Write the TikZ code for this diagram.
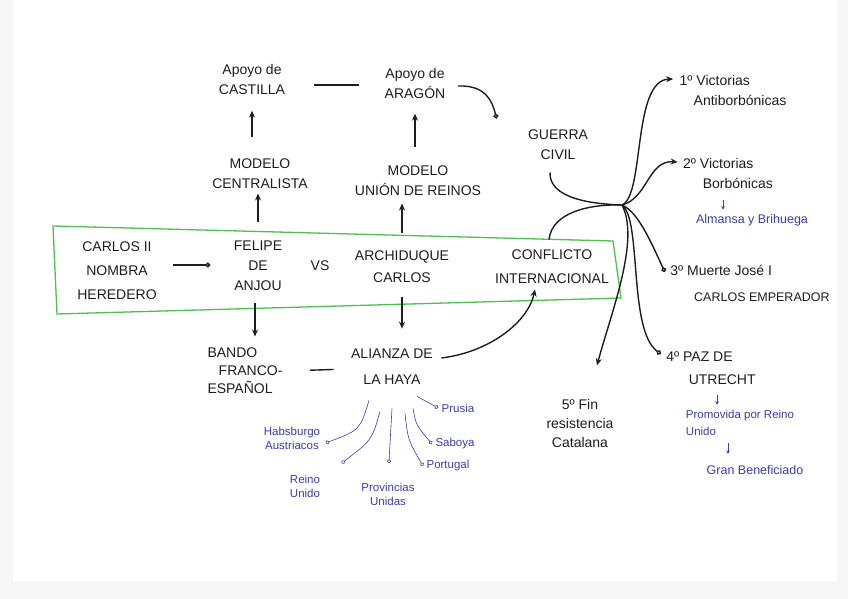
\documentclass[tikz,border=0pt]{standalone}
\usepackage{fontspec}
\setmainfont{Liberation Sans}
\usetikzlibrary{arrows.meta}
\definecolor{ink}{RGB}{30,30,30}
\definecolor{pen}{RGB}{60,60,170}
\definecolor{marker}{RGB}{80,190,80}
\begin{document}
\begin{tikzpicture}[
    x=1pt, y=-1pt,
    idea/.style={align=center, text=ink, font=\fontsize{14}{20}\selectfont},
    note/.style={align=center, text=pen, font=\fontsize{11.5}{14}\selectfont},
    arrow/.style={-{Stealth[length=7pt,width=6pt]}, line width=1.4pt, ink},
    dotarrow/.style={-{Circle[open,length=5pt]}, line width=1.4pt, ink},
    link/.style={line width=1.4pt, ink},
    bluearrow/.style={-{Circle[open,length=4pt]}, pen, line width=0.6pt},
    bluetip/.style={-{Stealth[length=3.5pt,width=3.5pt]}, pen, line width=0.6pt},
    frame/.style={draw=marker, line width=1.3pt}
]
% Page
\useasboundingbox (0,0) rectangle (848,599);
\fill[gray!7] (0,0) rectangle (848,599);
\fill[white] (13,0) rectangle (837,581);
% Green frame
\draw[frame] (53,226) -- (613,241) -- (621,298) -- (57,314) -- cycle;
% Top row
\node[idea] (castilla) at (252,79) {Apoyo de\\CASTILLA};
\node[idea] (aragon) at (415,83) {Apoyo de\\ARAGÓN};
\node[idea] (centralista) at (260,174) {MODELO\\CENTRALISTA};
\node[idea] (reinos) at (418,181) {MODELO\\UNIÓN DE REINOS};
\node[idea] (guerra) at (558,145) {GUERRA\\CIVIL};
% Framed row
\node[idea, font=\fontsize{14}{24}\selectfont] (carlos) at (117,271) {CARLOS II\\NOMBRA\\HEREDERO};
\node[idea] (felipe) at (258,266) {FELIPE\\DE\\ANJOU};
\node[idea] (vs) at (320,266) {VS};
\node[idea, font=\fontsize{14}{22}\selectfont] (archiduque) at (402,267) {ARCHIDUQUE\\CARLOS};
\node[idea, font=\fontsize{14}{24}\selectfont] (conflicto) at (552,267) {CONFLICTO\\INTERNACIONAL};
% Bottom row
\node[idea, align=left, font=\fontsize{14}{18}\selectfont] (bando) at (245,371) {BANDO\\\hspace*{0.8em}FRANCO-\\ESPAÑOL};
\node[idea, font=\fontsize{14}{26}\selectfont] (alianza) at (392,367) {ALIANZA DE\\LA HAYA};
% Alliance members
\node[note] (prusia) at (458,408) {Prusia};
\node[note] (saboya) at (455,444) {Saboya};
\node[note] (portugal) at (448,466) {Portugal};
\node[note] (provincias) at (388,494) {Provincias\\Unidas};
\node[note] (reino) at (305,486) {Reino\\Unido};
\node[note] (habsburgo) at (292,438) {Habsburgo\\Austriacos};
% Stages of the war
\coordinate (hub) at (622,205);
\node[idea, align=left] (first) at (733,90) {1º Victorias\\\hspace*{1em}Antiborbónicas};
\node[idea, align=left] (second) at (728,173) {2º Victorias\\\hspace*{1.4em}Borbónicas};
\node[note, font=\fontsize{12.5}{14}\selectfont] (almansa) at (752,220) {Almansa y Brihuega};
\node[idea, align=left, font=\fontsize{14}{26}\selectfont] (third) at (750,283) {3º Muerte José I\\\hspace*{1.7em}{\fontsize{12.5}{26}\selectfont CARLOS EMPERADOR}};
\node[idea, align=left, font=\fontsize{14}{23}\selectfont] (fourth) at (711,368) {4º PAZ DE\\\hspace*{1.6em}UTRECHT};
\node[note, align=left, font=\fontsize{11.5}{17}\selectfont] (promovida) at (740,423) {Promovida por Reino\\Unido};
\node[note, font=\fontsize{12.5}{14}\selectfont] (gran) at (755,470) {Gran Beneficiado};
\node[idea, font=\fontsize{14}{19}\selectfont] (fifth) at (580,423) {5º Fin\\resistencia\\Catalana};

% Connectors
\draw[link] ([xshift=25pt,yshift=-6pt]castilla.east) -- ([xshift=-22pt,yshift=-2pt]aragon.west);
\draw[arrow, shorten <=19pt, shorten >=13pt] (centralista.north -| castilla.south) -- (castilla.south);
\draw[arrow, shorten <=16pt, shorten >=12pt] (reinos.north -| aragon.south) -- (aragon.south);
\draw[arrow, shorten <=16pt, shorten >=1pt] (felipe.north) -- (felipe.north |- centralista.south);
\draw[arrow, shorten <=15pt, shorten >=4pt] (archiduque.north) -- (archiduque.north |- reinos.south);
\draw[dotarrow, shorten <=13pt, shorten >=20pt] ([yshift=6pt]carlos.east) -- ([yshift=1pt]felipe.west);
\draw[arrow, shorten <=9pt, shorten >=8pt] (felipe.south -| 255,0) -- (bando.north -| 255,0);
\draw[arrow, shorten <=11pt, shorten >=17pt] (archiduque.south) -- (archiduque.south |- alianza.north);
\draw[link, shorten <=24pt, shorten >=14pt] (bando.east) -- ([yshift=-2pt]alianza.west);
\draw[dotarrow] ([xshift=9pt,yshift=-3pt]aragon.east) .. controls (485,85) and (492,100) .. ([xshift=-28pt,yshift=8pt]guerra.north west);
\draw[arrow] ([xshift=5pt,yshift=9pt]alianza.east) .. controls (490,352) and (528,322) .. ([xshift=-17pt,yshift=-2pt]conflicto.south);
% Hub
\draw[link] ([xshift=-8pt,yshift=-9pt]guerra.south) .. controls (549,198) and (590,204) .. (hub);
\draw[link] ([xshift=-3pt,yshift=7pt]conflicto.north) .. controls (552,212) and (590,204) .. (hub);
\draw[arrow] (hub) .. controls (645,195) and (632,80) .. ([xshift=-3pt,yshift=11pt]first.west);
\draw[arrow] (hub) .. controls (648,198) and (648,160) .. ([xshift=-2pt,yshift=11pt]second.west);
\draw[dotarrow] (hub) .. controls (638,212) and (650,240) .. ([xshift=-2pt,yshift=11pt]third.west);
\draw[dotarrow] (hub) .. controls (642,220) and (628,330) .. ([xshift=-2pt,yshift=14pt]fourth.west);
\draw[arrow] (hub) .. controls (640,240) and (612,310) .. ([xshift=17pt,yshift=30pt]fifth.north);
\draw[bluetip] ([xshift=-29pt,yshift=11pt]almansa.north) -- ([xshift=-29pt,yshift=1pt]almansa.north);
\draw[bluetip] ([xshift=-23pt,yshift=12pt]promovida.north) -- ([xshift=-23pt,yshift=2pt]promovida.north);
\draw[bluetip] ([xshift=-27pt,yshift=19pt]gran.north) -- ([xshift=-27pt,yshift=8pt]gran.north);
% Members of the alliance
\draw[bluearrow] ([xshift=25pt,yshift=-8pt]alianza.south) -- (prusia.west);
\draw[bluearrow] ([xshift=21pt,yshift=-20pt]alianza.south) .. controls (416,425) .. (saboya.west);
\draw[bluearrow] ([xshift=13pt,yshift=-25pt]alianza.south) .. controls (408,440) .. (portugal.west);
\draw[bluearrow, shorten >=16pt] ([yshift=-20pt]alianza.south) -- (provincias.north);
\draw[bluearrow] ([xshift=-12pt,yshift=-23pt]alianza.south) .. controls (372,440) .. ([xshift=18pt,yshift=8pt]reino.north east);
\draw[bluearrow] ([xshift=-23pt,yshift=-12pt]alianza.south) .. controls (360,430) .. ([xshift=2pt,yshift=-5pt]habsburgo.east);
\end{tikzpicture}
\end{document}
